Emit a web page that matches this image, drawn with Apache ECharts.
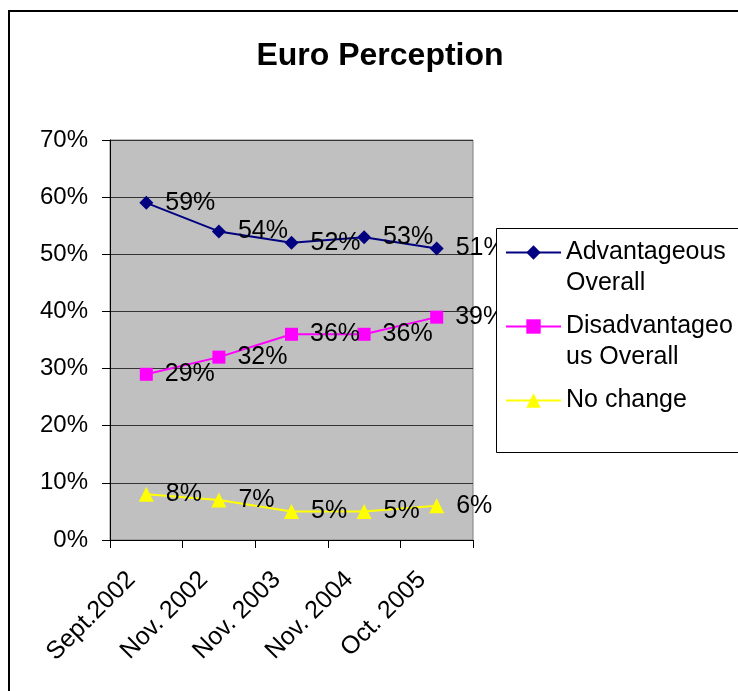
<!DOCTYPE html>
<html>
<head>
<meta charset="utf-8">
<script src="https://cdn.jsdelivr.net/npm/echarts@6/dist/echarts.min.js"></script>
<style>
  html, body { margin: 0; padding: 0; background: #fff; }
  #chart { width: 738px; height: 691px; }
</style>
</head>
<body>
<div id="chart"></div>
<script>
const categories = ['Sept.2002', 'Nov. 2002', 'Nov. 2003', 'Nov. 2004', 'Oct. 2005'];
const advantageous = [59, 54, 52, 53, 51];
const disadvantageous = [29, 32, 36, 36, 39];
const noChange = [8, 7, 5, 5, 6];
const yTicks = [0, 10, 20, 30, 40, 50, 60, 70];

// legend labels wrap like the original; the blank lines keep the icon on the first line
const legendText = {
  'Advantageous Overall': '\nAdvantageous\nOverall',
  'Disadvantageous Overall': '\nDisadvantageo\nus Overall',
  'No change': '\nNo change\n',
};

const font = 'Liberation Sans, Arial, sans-serif';
const chart = echarts.init(document.getElementById('chart'));

const label = {
  show: true,
  position: 'right',
  distance: 12,
  formatter: '{c}%',
  color: '#000',
  fontSize: 25,
  fontFamily: font,
};

chart.setOption({
  animation: false,
  title: {
    text: 'Euro Perception',
    left: 380,
    top: 40,
    padding: 0,
    textAlign: 'center',
    textStyle: { fontSize: 32, fontWeight: 'bold', color: '#000', fontFamily: font },
  },
  graphic: [
    {
      type: 'rect',
      shape: { x: 9, y: 11, width: 740, height: 700 },
      style: { fill: 'none', stroke: '#000', lineWidth: 2 },
      silent: true,
    },
    {
      type: 'rect',
      z: 10,
      shape: { x: 496.5, y: 228.5, width: 260, height: 224 },
      style: { fill: '#fff', stroke: '#000', lineWidth: 1 },
      silent: true,
    },
  ],
  legend: {
    orient: 'vertical',
    left: 505,
    top: 206,
    z: 20,
    padding: 0,
    itemGap: -19,
    itemWidth: 55,
    itemHeight: 18,
    formatter: (name) => legendText[name],
    textStyle: {
      fontSize: 25,
      lineHeight: 31,
      color: '#000',
      fontFamily: font,
    },
    data: ['Advantageous Overall', 'Disadvantageous Overall', 'No change'],
  },
  grid: {
    left: 110,
    right: 265,
    top: 140,
    bottom: 151,
    show: true,
    backgroundColor: '#c0c0c0',
    borderColor: '#808080',
    borderWidth: 1,
  },
  xAxis: {
    type: 'category',
    data: categories,
    boundaryGap: true,
    axisLine: { lineStyle: { color: '#000', width: 1 } },
    axisTick: { show: true, length: 8, lineStyle: { color: '#000' } },
    axisLabel: {
      rotate: 45,
      margin: 21,
      padding: [0, 21, 0, 0],
      fontSize: 25,
      color: '#000',
      fontFamily: font,
      interval: 0,
    },
  },
  yAxis: {
    type: 'value',
    min: yTicks[0],
    max: yTicks[yTicks.length - 1],
    interval: 10,
    axisLine: { show: true, lineStyle: { color: '#000', width: 1 } },
    axisTick: { show: true, length: 8, lineStyle: { color: '#000' } },
    axisLabel: { formatter: '{value}%', margin: 22, fontSize: 24, color: '#000', fontFamily: font },
    splitLine: { show: true, lineStyle: { color: '#333', width: 1 } },
  },
  series: [
    {
      name: 'Advantageous Overall',
      type: 'line',
      data: advantageous,
      symbol: 'diamond',
      symbolSize: 14,
      color: '#000080',
      lineStyle: { width: 2, color: '#000080' },
      label: label,
    },
    {
      name: 'Disadvantageous Overall',
      type: 'line',
      data: disadvantageous,
      symbol: 'rect',
      symbolSize: 13,
      color: '#ff00ff',
      lineStyle: { width: 2, color: '#ff00ff' },
      label: label,
    },
    {
      name: 'No change',
      type: 'line',
      data: noChange,
      symbol: 'triangle',
      symbolSize: 15,
      color: '#ffff00',
      lineStyle: { width: 2, color: '#ffff00' },
      label: label,
    },
  ],
});
</script>
</body>
</html>
